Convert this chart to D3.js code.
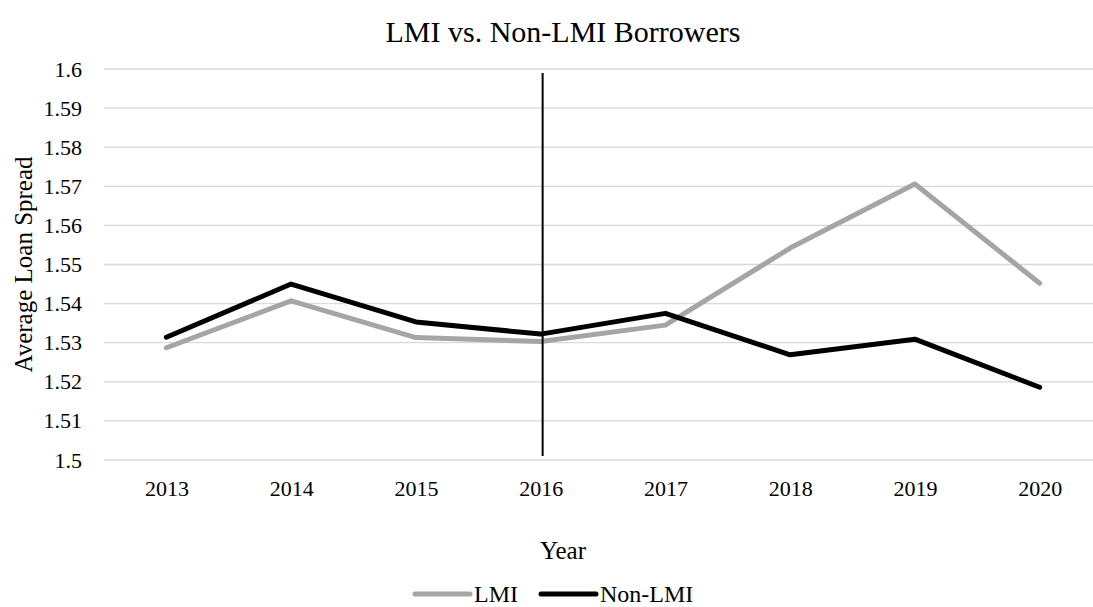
<!DOCTYPE html>
<html>
<head>
<meta charset="utf-8">
<script src="https://cdn.jsdelivr.net/npm/d3@7"></script>
<style>
  body { margin: 0; background: #fff; }
  text { font-family: "Liberation Serif", "Times New Roman", serif; fill: #000; }
</style>
</head>
<body>
<svg id="chart" width="1093" height="607"></svg>
<script>
// Average loan spread by year, LMI vs. non-LMI borrowers
const years = ["2013", "2014", "2015", "2016", "2017", "2018", "2019", "2020"];
const lmiSpread = [1.5287, 1.5407, 1.5313, 1.5303, 1.5345, 1.5542, 1.5706, 1.5452];
const nonLmiSpread = [1.5314, 1.5450, 1.5353, 1.5322, 1.5375, 1.5269, 1.5309, 1.5186];
const yTicks = [1.5, 1.51, 1.52, 1.53, 1.54, 1.55, 1.56, 1.57, 1.58, 1.59, 1.6];
const markerYear = "2016";

const series = [
  { name: "LMI", values: lmiSpread, color: "#a5a5a5" },
  { name: "Non-LMI", values: nonLmiSpread, color: "#000000" }
];

const svg = d3.select("#chart");
const plot = { left: 104, right: 1102, top: 69, bottom: 460 };
const step = (plot.right - plot.left) / years.length;

const x = d3.scalePoint()
  .domain(years)
  .range([plot.left + step / 2, plot.right - step / 2]);
const y = d3.scaleLinear()
  .domain([1.5, 1.6])
  .range([plot.bottom, plot.top]);

// horizontal gridlines
svg.append("g")
  .selectAll("line")
  .data(yTicks)
  .join("line")
  .attr("x1", plot.left)
  .attr("x2", plot.right)
  .attr("y1", d => y(d))
  .attr("y2", d => y(d))
  .attr("stroke", "#d9d9d9")
  .attr("stroke-width", 1.3);

// y tick labels
const yAxis = d3.axisLeft(y)
  .tickValues(yTicks)
  .tickFormat(d => String(+d.toFixed(2)))
  .tickSize(0)
  .tickPadding(22);
svg.append("g")
  .attr("transform", `translate(${plot.left},0)`)
  .call(yAxis)
  .call(g => g.select(".domain").remove())
  .call(g => g.selectAll("text")
    .style("font-family", '"Liberation Serif", serif')
    .style("font-size", "22px")
    .attr("fill", "#000"));

// x tick labels
const xAxis = d3.axisBottom(x).tickSize(0).tickPadding(20);
svg.append("g")
  .attr("transform", `translate(0,${plot.bottom})`)
  .call(xAxis)
  .call(g => g.select(".domain").remove())
  .call(g => g.selectAll("text")
    .style("font-family", '"Liberation Serif", serif')
    .style("font-size", "22px")
    .attr("fill", "#000"));

// series lines
const line = d3.line()
  .x((d, i) => x(years[i]))
  .y(d => y(d));

svg.append("g")
  .selectAll("path")
  .data(series)
  .join("path")
  .attr("d", d => line(d.values))
  .attr("fill", "none")
  .attr("stroke", d => d.color)
  .attr("stroke-width", 5)
  .attr("stroke-linejoin", "round")
  .attr("stroke-linecap", "round");

// vertical marker at the policy year
svg.append("line")
  .attr("x1", x(markerYear) + 2)
  .attr("x2", x(markerYear) + 2)
  .attr("y1", plot.top + 4)
  .attr("y2", plot.bottom - 4)
  .attr("stroke", "#000")
  .attr("stroke-width", 2);

// title
svg.append("text")
  .attr("x", 563)
  .attr("y", 42)
  .attr("text-anchor", "middle")
  .style("font-size", "30px")
  .text("LMI vs. Non-LMI Borrowers");

// axis titles
svg.append("text")
  .attr("x", 563)
  .attr("y", 559)
  .attr("text-anchor", "middle")
  .style("font-size", "25px")
  .text("Year");

svg.append("text")
  .attr("transform", `translate(32,${(plot.top + plot.bottom) / 2}) rotate(-90)`)
  .attr("text-anchor", "middle")
  .style("font-size", "25px")
  .text("Average Loan Spread");

// legend
const legendX = [415, 541];
const legend = svg.append("g")
  .selectAll("g")
  .data(series)
  .join("g")
  .attr("transform", (d, i) => `translate(${legendX[i]},594)`);
legend.append("line")
  .attr("x1", 0).attr("x2", 55)
  .attr("stroke", d => d.color)
  .attr("stroke-width", 5)
  .attr("stroke-linecap", "round");
legend.append("text")
  .attr("x", 59)
  .attr("y", 8)
  .style("font-size", "24px")
  .text(d => d.name);
</script>
</body>
</html>
